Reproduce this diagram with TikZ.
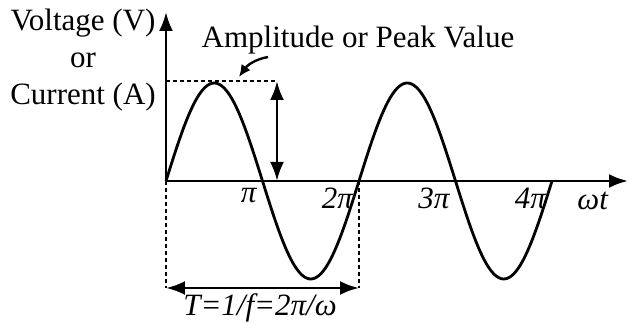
\documentclass[tikz,border=0pt]{standalone}
\usepackage{fontspec}
\setmainfont{Liberation Serif}
\usetikzlibrary{arrows.meta}
\tikzset{
  every picture/.style={
    every path/.style={line width=2.8pt},
  }
}
\tikzset{axis/.style = {-{Latex[length=19pt,width=14pt]}}}
\tikzset{dim/.style = {{Latex[length=19pt,width=14pt]}-{Latex[length=19pt,width=14pt]}}}
\tikzset{guide/.style = {line width=2.4pt, dash pattern=on 4pt off 3pt}}
\tikzset{lbl/.style = {font=\fontsize{31}{37}\selectfont, inner sep=0pt}}

\begin{document}
\begin{tikzpicture}[x=1pt,y=1pt]
      \useasboundingbox (-166,-142) rectangle (464,181);
      \coordinate (O) at (0,0);
      \coordinate (ytip) at (0,169);
      \coordinate (xtip) at (462,0);
      \coordinate (peak) at (0,100);
      \coordinate (ampr) at (111,100);
      \coordinate (ampb) at (111,0);
      \coordinate (per) at (193,0);
      \coordinate (lo) at (0,-107);
      \coordinate (per lo) at (193,-107);
      \draw[axis] (O) -- (ytip);
      \draw[axis] (O) -- (xtip);
      \draw plot[domain=0:386, samples=160, smooth]
        (\x, {98*sin(\x/96.5*180)});
      \draw[guide] (peak) -- (ampr);
      \draw[guide] (O) -- (lo);
      \draw[guide] (per) -- (per lo);
      \draw[dim] (ampr) -- (ampb);
      \draw[dim] (lo) -- (per lo);
      % labels
      \node[lbl, align=center] (ylab) at (-83,121)
        {Voltage (V)\\or\\Current (A)};
      \node[lbl] (amp) at (192,141) {Amplitude or Peak Value};
      \draw[line width=2.4pt, -{Latex[length=12pt,width=11pt]}]
        (102,124) to[out=190, in=55] (73,104);
      \foreach \k/\t in {1/\textit{π}, 2/\textit{2π}, 3/\textit{3π}, 4/\textit{4π}}
        \node[lbl, anchor=north east] (pi\k) at ({96.5*\k-4},-6) {\t};
      \node[lbl] (wt) at (427,-20) {\textit{ωt}};
      \node[lbl] (per lab) at (94,-127) {\textit{T=1/f=2π/ω}};
    \end{tikzpicture}
\end{document}
